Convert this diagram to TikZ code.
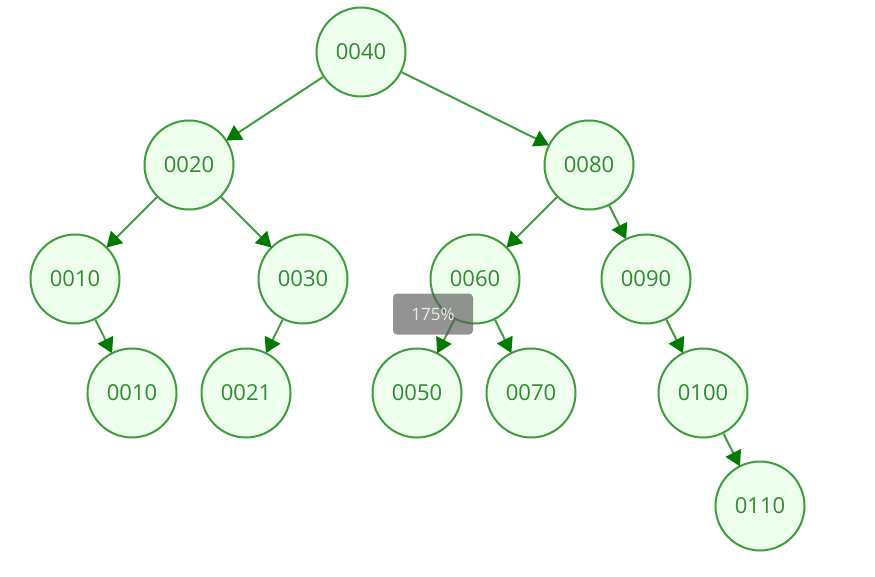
\documentclass[tikz,border=0pt]{standalone}
\usepackage{fontspec}
\setmainfont{Open Sans}
\usetikzlibrary{arrows.meta}
\definecolor{nstroke}{HTML}{3E9E3E}
\definecolor{nfill}{HTML}{EEFFEE}
\definecolor{ntext}{HTML}{2E8B2E}
\definecolor{arr}{HTML}{007A00}
\tikzset{
  tnode/.style={circle,draw=nstroke,fill=nfill,line width=2pt,minimum size=89pt,inner sep=0pt,
    text=ntext,font=\fontsize{22}{22}\selectfont},
  tedge/.style={draw=nstroke,line width=2pt,-{Triangle[length=15pt,width=17pt,fill=arr,color=arr]},shorten >=-1pt}
}
\begin{document}
\begin{tikzpicture}[x=1pt,y=-1pt]
\useasboundingbox (0,0) rectangle (875,577);
\node[tnode] (n40) at (361,52) {0040};
\node[tnode] (n20) at (189,165) {0020};
\node[tnode] (n80) at (589,165) {0080};
\node[tnode] (n10) at (75,279) {0010};
\node[tnode] (n30) at (303,279) {0030};
\node[tnode] (n60) at (475,279) {0060};
\node[tnode] (n90) at (646,279) {0090};
\node[tnode] (n10b) at (132,393) {0010};
\node[tnode] (n21) at (246,393) {0021};
\node[tnode] (n50) at (417,393) {0050};
\node[tnode] (n70) at (531,393) {0070};
\node[tnode] (n100) at (703,393) {0100};
\node[tnode] (n110) at (760,506) {0110};
\draw[tedge] (n40) -- (n20);
\draw[tedge] (n40) -- (n80);
\draw[tedge] (n20) -- (n10);
\draw[tedge] (n20) -- (n30);
\draw[tedge] (n80) -- (n60);
\draw[tedge] (n80) -- (n90);
\draw[tedge] (n10) -- (n10b);
\draw[tedge] (n30) -- (n21);
\draw[tedge] (n60) -- (n50);
\draw[tedge] (n60) -- (n70);
\draw[tedge] (n90) -- (n100);
\draw[tedge] (n100) -- (n110);
\node[fill=black!65,fill opacity=0.65,text opacity=1,text=white!85!gray,rounded corners=4pt,
  minimum width=80pt,minimum height=41pt,inner sep=0pt,font=\fontsize{17}{17}\selectfont] (zoom) at (433,314) {175\%};
\end{tikzpicture}
\end{document}
